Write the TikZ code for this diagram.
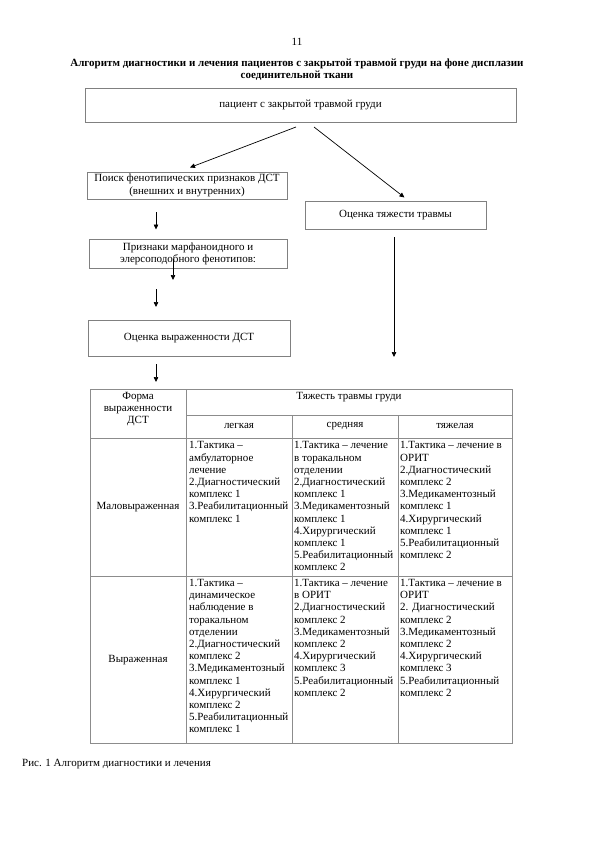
\documentclass[tikz,border=0pt]{standalone}
\usepackage{fontspec}
\setmainfont{Liberation Serif}
\usetikzlibrary{arrows.meta}
\definecolor{boxgray}{RGB}{128,128,128}
\definecolor{tabgray}{RGB}{140,140,140}
\begin{document}
\begin{tikzpicture}[x=1pt,y=-1pt,
  txt/.style={font=\fontsize{11}{12.2}\selectfont, inner sep=0pt},
  box/.style={draw=boxgray, line width=0.8pt, inner sep=0pt, align=center, font=\fontsize{11}{13}\selectfont},
  arr/.style={-{Triangle[length=5pt,width=4.5pt]}, line width=0.7pt},
  tline/.style={draw=tabgray, line width=0.8pt},
  cell/.style={anchor=north west, inner sep=0pt, align=left, font=\fontsize{11}{12.2}\selectfont},
  ccell/.style={inner sep=0pt, align=center, font=\fontsize{11}{12.2}\selectfont}
]
\useasboundingbox[fill=white] (0,0) rectangle (594,841);

% page number and title
\node[txt] (pnum) at (297,42) {11};
\node[txt, font=\fontsize{11}{12.2}\selectfont\bfseries, align=center] (title) at (297,70)
  {Алгоритм диагностики и лечения пациентов с закрытой травмой груди на фоне дисплазии\\соединительной ткани};

% boxes
\node[box, minimum width=431pt, minimum height=34pt] (b1) at (300.5,105) {пациент с закрытой травмой груди};
\node[box, minimum width=200pt, minimum height=27pt] (b2) at (187,185.5) {Поиск фенотипических признаков ДСТ\\(внешних и внутренних)};
\node[box, minimum width=181pt, minimum height=28pt] (b5) at (395.5,215) {Оценка тяжести травмы};
\node[box, minimum width=198pt, minimum height=29pt, font=\fontsize{11}{12}\selectfont] (b3) at (188,253.5) {Признаки марфаноидного и\\элерсоподобного фенотипов:};
\node[box, minimum width=202pt, minimum height=36pt] (b4) at (189,338) {Оценка выраженности ДСТ};

% arrow end points
\coordinate (a1s) at (296,127); \coordinate (a1e) at (190,167.5);
\coordinate (a2s) at (314,127); \coordinate (a2e) at (404.5,197.5);
\coordinate (a3s) at (156,212); \coordinate (a3e) at (156,229.5);
\coordinate (a4s) at (173,259); \coordinate (a4e) at (173,280);
\coordinate (a5s) at (156,289); \coordinate (a5e) at (156,307);
\coordinate (a6s) at (156,364); \coordinate (a6e) at (156,382);
\coordinate (a7s) at (394,237); \coordinate (a7e) at (394,357);
\draw[arr] (a1s) -- (a1e);
\draw[arr] (a2s) -- (a2e);
\draw[arr] (a3s) -- (a3e);
\draw[arr] (a4s) -- (a4e);
\draw[arr] (a5s) -- (a5e);
\draw[arr] (a6s) -- (a6e);
\draw[arr] (a7s) -- (a7e);

% table grid
\draw[tline] (90,389) rectangle (512,743);
\draw[tline] (186,389) -- (186,743);
\draw[tline] (292,415) -- (292,743);
\draw[tline] (398,415) -- (398,743);
\draw[tline] (186,415) -- (512,415);
\draw[tline] (90,438) -- (512,438);
\draw[tline] (90,576) -- (512,576);

% header
\node[ccell] (h1) at (138,409) {Форма\\выраженности\\ДСТ};
\node[ccell] (h2) at (349,397) {Тяжесть травмы груди};
\node[ccell] (h3) at (239,426) {легкая};
\node[ccell] (h4) at (345,426) {средняя};
\node[ccell] (h5) at (455,426) {тяжелая};

% row labels
\node[ccell] (r1) at (138,507) {Маловыраженная};
\node[ccell] (r2) at (138,660) {Выраженная};

% row 1
\node[cell] (c11) at (189,441.5) {1.Тактика –\\амбулаторное\\лечение\\2.Диагностический\\комплекс 1\\3.Реабилитационный\\комплекс 1};
\node[cell] (c12) at (294,441.5) {1.Тактика – лечение\\в торакальном\\отделении\\2.Диагностический\\комплекс 1\\3.Медикаментозный\\комплекс 1\\4.Хирургический\\комплекс 1\\5.Реабилитационный\\комплекс 2};
\node[cell] (c13) at (400,441.5) {1.Тактика – лечение в\\ОРИТ\\2.Диагностический\\комплекс 2\\3.Медикаментозный\\комплекс 1\\4.Хирургический\\комплекс 1\\5.Реабилитационный\\комплекс 2};

% row 2
\node[cell] (c21) at (189,579) {1.Тактика –\\динамическое\\наблюдение в\\торакальном\\отделении\\2.Диагностический\\комплекс 2\\3.Медикаментозный\\комплекс 1\\4.Хирургический\\комплекс 2\\5.Реабилитационный\\комплекс 1};
\node[cell] (c22) at (294,579) {1.Тактика – лечение\\в ОРИТ\\2.Диагностический\\комплекс 2\\3.Медикаментозный\\комплекс 2\\4.Хирургический\\комплекс 3\\5.Реабилитационный\\комплекс 2};
\node[cell] (c23) at (400,579) {1.Тактика – лечение в\\ОРИТ\\2. Диагностический\\комплекс 2\\3.Медикаментозный\\комплекс 2\\4.Хирургический\\комплекс 3\\5.Реабилитационный\\комплекс 2};

% caption
\node[txt, anchor=west] (cap) at (22,764) {Рис. 1 Алгоритм диагностики и лечения};
\end{tikzpicture}
\end{document}
